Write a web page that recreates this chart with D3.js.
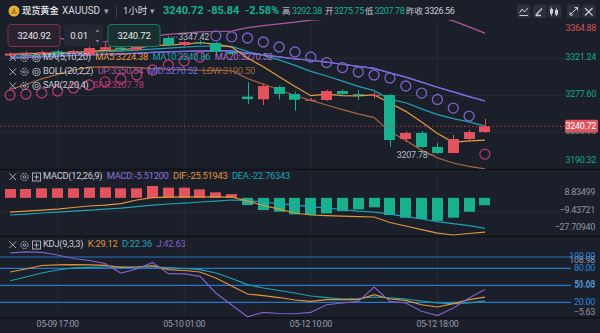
<!DOCTYPE html>
<html><head><meta charset="utf-8">
<script src="https://cdn.jsdelivr.net/npm/d3@7"></script>
<style>
html,body{margin:0;padding:0;background:#1b1f2a;overflow:hidden;}
svg{display:block;font-family:Roboto,"Noto Sans CJK SC",sans-serif;}
</style></head><body>
<svg id="c" width="600" height="333"></svg>
<script>
// ---------------- data ----------------
const categories = ["05-09 14:00","05-09 15:00","05-09 16:00","05-09 17:00","05-09 18:00","05-09 19:00","05-09 20:00","05-09 21:00","05-09 22:00","05-09 23:00","05-10 00:00","05-10 01:00","05-10 02:00","05-10 03:00","05-10 04:00","05-12 06:00","05-12 07:00","05-12 08:00","05-12 09:00","05-12 10:00","05-12 11:00","05-12 12:00","05-12 13:00","05-12 14:00","05-12 15:00","05-12 16:00","05-12 17:00","05-12 18:00","05-12 19:00","05-12 20:00","05-12 21:00"];
const xTickLabels = ["05-09 17:00","05-10 01:00","05-12 10:00","05-12 18:00"];
const openP  = [3324.0,3325.0,3325.5,3329.0,3327.0,3325.0,3331.0,3333.5,3331.0,3336.5,3345.0,3336.5,3340.0,3339.0,3328.5,3275.75,3272.5,3287.0,3278.8,3271.8,3271.7,3282.3,3278.6,3277.4,3277.6,3225.7,3232.8,3216.3,3209.2,3225.7,3233.9];
const highP  = [3328.0,3329.0,3330.0,3330.5,3331.0,3339.0,3339.0,3336.0,3338.0,3345.5,3347.42,3341.5,3342.0,3340.0,3329.5,3292.38,3290.5,3288.5,3281.5,3274.0,3284.0,3284.0,3283.5,3281.0,3279.0,3234.5,3235.0,3221.0,3230.5,3236.3,3249.3];
const lowP   = [3322.0,3323.5,3324.0,3325.5,3326.0,3324.0,3330.0,3328.0,3330.0,3335.0,3335.5,3335.0,3337.0,3327.0,3325.0,3267.0,3265.8,3272.5,3259.0,3270.5,3270.5,3276.5,3271.7,3273.5,3216.3,3222.2,3215.0,3207.78,3208.5,3222.0,3233.0];
const closeP = [3326.5,3327.5,3328.0,3327.0,3329.5,3333.0,3334.0,3331.5,3336.5,3344.0,3336.5,3340.0,3339.0,3328.5,3326.56,3272.8,3288.2,3278.8,3272.0,3272.0,3282.3,3278.8,3277.8,3277.8,3224.5,3232.8,3216.3,3209.2,3225.7,3233.9,3240.72];
const ma5  = [3325.5,3326.3,3326.8,3327.2,3327.7,3329.0,3330.3,3331.0,3332.9,3335.8,3336.5,3337.7,3339.2,3337.6,3334.1,3321.4,3311.0,3299.0,3287.7,3276.8,3278.7,3276.8,3276.6,3277.7,3268.2,3258.3,3245.8,3232.1,3221.7,3223.6,3224.38];
const ma10 = [3323.0,3324.0,3325.0,3325.8,3326.6,3327.6,3328.6,3329.4,3330.5,3331.8,3332.8,3334.0,3335.1,3335.3,3335.0,3328.9,3324.4,3319.1,3312.6,3305.4,3300.0,3293.9,3287.8,3282.7,3272.5,3268.5,3261.3,3254.4,3249.7,3245.9,3240.86];
const ma20 = [3321.0,3322.0,3322.8,3323.5,3324.2,3325.0,3325.6,3326.2,3327.0,3327.8,3328.4,3329.0,3329.4,3329.6,3329.6,3327.0,3325.0,3322.5,3320.3,3318.6,3316.4,3313.9,3311.4,3309.0,3303.7,3298.7,3292.8,3286.7,3281.2,3275.7,3270.52];
const bollMid = [3321.0,3322.0,3322.8,3323.5,3324.2,3325.0,3325.6,3326.2,3327.0,3327.8,3328.4,3329.0,3329.4,3329.6,3329.6,3327.0,3325.0,3322.5,3320.3,3318.6,3316.4,3313.9,3311.4,3309.0,3303.7,3298.7,3292.8,3286.7,3281.2,3275.7,3270.52];
const bollUp  = [3358.0,3354.0,3349.0,3345.0,3341.5,3339.5,3340.5,3342.0,3344.0,3347.0,3349.0,3350.5,3352.0,3352.5,3353.0,3357.0,3359.5,3361.5,3363.5,3366.0,3367.0,3367.5,3367.5,3367.0,3373.0,3373.5,3373.0,3370.0,3365.0,3358.0,3350.54];
const bollLow = [3284.0,3290.0,3296.6,3302.0,3307.0,3310.5,3310.7,3310.4,3310.0,3308.6,3307.8,3307.5,3306.8,3306.7,3306.2,3297.0,3290.5,3283.5,3277.0,3271.2,3265.8,3260.3,3255.3,3251.0,3234.4,3223.9,3212.6,3203.4,3197.4,3193.4,3190.50];
const sar = [3277.6,3278.8,3280.0,3282.3,3285.9,3289.4,3293.0,3296.5,3301.2,3307.1,3313.0,3317.7,3322.4,3347.42,3346.2,3344.8,3340.1,3334.2,3328.3,3322.4,3315.9,3310.0,3304.7,3301.2,3297.6,3288.2,3279.9,3272.3,3262.2,3252.8,3207.78];
const priceTicks = [3364.88,3321.24,3277.60,3233.96,3190.32];
const macdHist = [6.6,6.6,7.1,7.1,7.1,7.6,7.8,7.1,7.1,8.83499,7.6,7.6,6.3,4.1,2.8,-5.4,-9.1,-10.4,-12.3,-12.8,-11.6,-9.9,-8.6,-7.1,-12.8,-14.8,-15.8,-17.1,-14.8,-10.4,-5.512];
const dif = [-10.6,-9.9,-9.1,-8.4,-7.2,-6.1,-5.4,-4.3,-1.6,0.1,0.6,0.7,0.7,0.7,0.6,-2.4,-5.7,-8.4,-11.3,-12.8,-13.2,-13.6,-14.0,-14.3,-18.4,-21.0,-23.7,-26.3,-27.7094,-26.6,-25.51943];
const dea = [-12.8,-12.1,-11.3,-10.6,-9.9,-9.1,-8.4,-7.6,-6.5,-5.4,-4.6,-3.9,-3.1,-2.4,-1.6,-2.0,-3.1,-4.3,-5.4,-6.5,-7.6,-8.7,-9.9,-10.6,-12.1,-14.0,-15.8,-17.7,-19.2,-20.7,-22.76343];
const macdTicks = [8.83499,-9.43721,-27.70940];
const kdjK = [73.5,78.8,85.0,85.9,86.4,85.9,85.3,81.8,82.3,84.6,77.6,76.1,73.5,62.9,48.8,34.6,31.6,28.4,24.0,21.7,24.6,24.6,24.6,33.4,25.8,23.5,15.7,11.7,17.5,24.6,29.12];
const kdjD = [58.1,64.7,71.7,77.0,80.6,81.8,82.3,82.3,82.3,82.3,81.4,79.7,77.6,71.7,62.0,51.1,45.2,40.8,36.4,31.1,28.4,25.8,26.7,29.3,27.9,25.8,22.3,18.7,17.8,18.7,22.36];
const kdjJ = [107.1,108.98,108.3,103.5,97.3,93.8,88.5,71.7,78.8,90.3,70.5,70.0,65.9,36.4,15.2,-5.63,2.3,0.2,-0.2,2.3,15.7,18.7,21.7,47.0,21.7,18.7,4.1,-3.5,9.9,27.6,42.63];
const kdjLevels = [100,80,50,20];
const kdjTicks = [108.98,51.68,-5.63];

// ---------------- layout ----------------
const W=600,H=333,PR=566;
const RED="#e2535d", GREEN="#19b08f";
const FS=9, LS=-0.3;
const C = {bg:"#1b1f2a", grid:"#242a36", sep:"#0e1117", ma5:"#e69d3c", ma10:"#1ea2b6", ma20:"#b86bd0",
  mid:"#6a6fe6", up:"#b0589e", low:"#a5683c", sarUp:"#b33a70", sarDn:"#7d62c8", text:"#c9cdd5", axis:"#8e95a3",
  dif:"#e0953a", dea:"#1ea2b6", macd:"#8b6fd8", kK:"#e0953a", kD:"#1ea2b6", kJ:"#7f60c9", level:"#2776c6"};
const svg=d3.select('#c');
svg.append('rect').attr('width',W).attr('height',H).attr('fill',C.bg);

const x=d3.scaleBand().domain(categories).range([-1,496]).paddingInner(0.3).paddingOuter(0.35);
const cx=i=>x(categories[i])+x.bandwidth()/2;
const idx=d3.range(categories.length);
const yP=d3.scaleLinear().domain([3190.32,3364.88]).range([169,21]);
const yM=d3.scaleLinear().domain([-27.7094,8.83499]).range([235,186]);
const yK=d3.scaleLinear().domain([-5.63,108.98]).range([316.8,251.9]);

const defs=svg.append('defs');
defs.append('clipPath').attr('id','cm').append('rect').attr('x',0).attr('y',20).attr('width',PR).attr('height',149);
defs.append('clipPath').attr('id','cmacd').append('rect').attr('x',0).attr('y',183).attr('width',PR).attr('height',53);
defs.append('clipPath').attr('id','ck').append('rect').attr('x',0).attr('y',250).attr('width',PR).attr('height',68);

// grid
const g=svg.append('g');
g.selectAll('line.v').data(xTickLabels).join('line')
  .attr('x1',d=>x(d)+x.bandwidth()/2).attr('x2',d=>x(d)+x.bandwidth()/2).attr('y1',20).attr('y2',318)
  .attr('stroke',C.grid).attr('stroke-width',1);
g.selectAll('line.h').data(priceTicks.slice(1,4)).join('line')
  .attr('x1',0).attr('x2',PR).attr('y1',d=>Math.round(yP(d))+0.5).attr('y2',d=>Math.round(yP(d))+0.5)
  .attr('stroke',C.grid).attr('stroke-width',1);
g.append('line').attr('x1',0).attr('x2',PR).attr('y1',Math.round(yM(-9.43721))+0.5).attr('y2',Math.round(yM(-9.43721))+0.5).attr('stroke',C.grid);

[169.5,236.5,318].forEach(yy=>svg.append('line').attr('x1',0).attr('x2',W).attr('y1',yy).attr('y2',yy).attr('stroke',C.sep).attr('stroke-width',1.5));

// ---------- main pane ----------
const main=svg.append('g').attr('clip-path','url(#cm)');
const lineP=d3.line().x((d,i)=>cx(i)).y(d=>yP(d));
[[bollUp,C.up],[bollLow,C.low],[ma20,C.ma20],[bollMid,C.mid],[ma10,C.ma10],[ma5,C.ma5]].forEach(([arr,col])=>{
  main.append('path').datum(arr).attr('d',lineP).attr('fill','none').attr('stroke',col).attr('stroke-width',1.2);
});
const cg=main.append('g');
idx.forEach(i=>{
  const up=closeP[i]>=openP[i], col=up?RED:GREEN;
  cg.append('line').attr('x1',Math.round(cx(i))+0.5).attr('x2',Math.round(cx(i))+0.5)
    .attr('y1',yP(highP[i])).attr('y2',yP(lowP[i])).attr('stroke',col).attr('stroke-width',1);
  const y0=yP(Math.max(openP[i],closeP[i])), y1=yP(Math.min(openP[i],closeP[i]));
  cg.append('rect').attr('x',Math.round(cx(i)-x.bandwidth()/2)).attr('y',y0).attr('width',Math.round(x.bandwidth()))
    .attr('height',Math.max(1,y1-y0)).attr('fill',col);
});
main.selectAll('circle.sar').data(sar).join('circle')
  .attr('cx',(d,i)=>cx(i)).attr('cy',d=>yP(d)).attr('r',5)
  .attr('fill','none').attr('stroke',(d,i)=>d<closeP[i]?C.sarUp:C.sarDn).attr('stroke-width',1.3);

const last=closeP[closeP.length-1];
svg.append('line').attr('x1',0).attr('x2',PR).attr('y1',yP(last)).attr('y2',yP(last))
  .attr('stroke','#c4424f').attr('stroke-width',1).attr('stroke-dasharray','1.5,2.5');

function num(sel){ return sel.attr('font-size',FS).attr('letter-spacing',LS); }

const hiI=d3.maxIndex(highP), loI=d3.minIndex(lowP);
svg.append('line').attr('x1',cx(hiI)+3).attr('x2',cx(hiI)+9).attr('y1',yP(highP[hiI])+1.5).attr('y2',yP(highP[hiI])+1.5)
  .attr('stroke','#9aa0ab').attr('stroke-dasharray','1,1.5');
num(svg.append('text')).attr('x',cx(hiI)+10).attr('y',yP(highP[hiI])+2).attr('dominant-baseline','middle')
  .attr('fill','#b3b8c2').text(d3.format('.2f')(highP[hiI]));
svg.append('line').attr('x1',cx(loI)-9).attr('x2',cx(loI)-3).attr('y1',yP(lowP[loI])+0.5).attr('y2',yP(lowP[loI])+0.5)
  .attr('stroke','#9aa0ab').attr('stroke-dasharray','1,1.5');
num(svg.append('text')).attr('x',cx(loI)-10).attr('y',yP(lowP[loI])+1).attr('text-anchor','end').attr('dominant-baseline','middle')
  .attr('fill','#b3b8c2').text(d3.format('.2f')(lowP[loI]));

num(svg.selectAll('text.pt').data(priceTicks).join('text'))
  .attr('x',596).attr('y',d=>Math.max(29,Math.min(161,yP(d)))).attr('text-anchor','end').attr('dominant-baseline','middle')
  .attr('fill',d=>d>closeP[14]?"#d9505a":"#17a887").text(d=>d3.format('.2f')(d));
svg.append('rect').attr('x',565).attr('y',yP(last)-6.5).attr('width',33).attr('height',13).attr('rx',1.5).attr('fill','#e0525c');
num(svg.append('text')).attr('x',596).attr('y',yP(last)+0.5).attr('text-anchor','end').attr('dominant-baseline','middle')
  .attr('fill','#fff').text(d3.format('.2f')(last));

// ---------- MACD pane ----------
const mg=svg.append('g').attr('clip-path','url(#cmacd)');
mg.selectAll('rect').data(macdHist).join('rect')
  .attr('x',(d,i)=>Math.round(cx(i)-x.bandwidth()/2)).attr('width',Math.round(x.bandwidth()))
  .attr('y',d=>Math.min(yM(d),yM(0))).attr('height',d=>Math.abs(yM(d)-yM(0)))
  .attr('fill',d=>d>=0?RED:GREEN);
const lineM=d3.line().x((d,i)=>cx(i)).y(d=>yM(d));
mg.append('path').datum(dea).attr('d',lineM).attr('fill','none').attr('stroke',C.dea).attr('stroke-width',1.2);
mg.append('path').datum(dif).attr('d',lineM).attr('fill','none').attr('stroke',C.dif).attr('stroke-width',1.2);
num(svg.selectAll('text.mt').data(macdTicks).join('text'))
  .attr('x',595).attr('y',d=>Math.max(193,Math.min(228,yM(d)))).attr('text-anchor','end').attr('dominant-baseline','middle')
  .attr('fill',C.axis).text(d=>d3.format('.5f')(d));

// ---------- KDJ pane ----------
const kg=svg.append('g');
kg.selectAll('line').data(kdjLevels).join('line')
  .attr('x1',0).attr('x2',571).attr('y1',d=>yK(d)).attr('y2',d=>yK(d)).attr('stroke',C.level).attr('stroke-width',1.2);
const kc=svg.append('g').attr('clip-path','url(#ck)');
const lineK=d3.line().x((d,i)=>cx(i)).y(d=>yK(d));
[[kdjD,C.kD],[kdjK,C.kK],[kdjJ,C.kJ]].forEach(([arr,col])=>kc.append('path').datum(arr).attr('d',lineK).attr('fill','none').attr('stroke',col).attr('stroke-width',1.2));
num(svg.selectAll('text.kt').data(kdjTicks).join('text'))
  .attr('x',595).attr('y',d=>Math.max(261,Math.min(313,yK(d)))).attr('text-anchor','end').attr('dominant-baseline','middle')
  .attr('fill',C.axis).text(d=>d3.format('.2f')(d));
num(svg.selectAll('text.kl').data(kdjLevels).join('text'))
  .attr('x',595).attr('y',d=>yK(d)).attr('text-anchor','end').attr('dominant-baseline','middle')
  .attr('fill','#2b86de').text(d=>d3.format('.2f')(d));

svg.selectAll('text.xt').data(xTickLabels).join('text')
  .attr('x',d=>x(d)+x.bandwidth()/2).attr('y',325).attr('text-anchor','middle').attr('dominant-baseline','middle')
  .attr('font-size',8.8).attr('letter-spacing',-0.4).attr('fill','#969cab').text(d=>d);

// ---------- legends ----------
function icons(y, third){
  const gi=svg.append('g').attr('stroke','#a5abb6').attr('fill','none').attr('stroke-width',1);
  gi.append('path').attr('d',`M9.5,${y-3.5}L16,${y+3}M16,${y-3.5}L9.5,${y+3}`);
  gi.append('circle').attr('cx',24.5).attr('cy',y).attr('r',3.6).attr('stroke-dasharray','2,0.8');
  gi.append('circle').attr('cx',24.5).attr('cy',y).attr('r',1.3);
  if(third==='eye'){
    gi.append('circle').attr('cx',36.5).attr('cy',y).attr('r',3.8);
    gi.append('circle').attr('cx',36.5).attr('cy',y).attr('r',1.7);
  } else {
    gi.append('rect').attr('x',32.5).attr('y',y-4).attr('width',8).attr('height',8);
    gi.append('path').attr('d',`M36.5,${y-2.5}V${y+2.5}M34,${y}H39`);
  }
}
function legend(y, parts){
  let xx=43;
  parts.forEach(([s,col])=>{
    const t=svg.append('text').attr('x',xx).attr('y',y).attr('dominant-baseline','middle')
      .attr('font-size',9.3).attr('letter-spacing',-0.25).attr('fill',col).text(s);
    xx+=t.node().getComputedTextLength()+4.5;
  });
}
icons(58,'eye'); legend(58,[["MA(5,10,20)",C.text],["MA5:"+ma5[30].toFixed(2),C.ma5],["MA10:"+ma10[30].toFixed(2),C.ma10],["MA20:"+ma20[30].toFixed(2),C.ma20]]);
icons(72,'eye'); legend(72,[["BOLL(20,2,2)",C.text],["UP:"+bollUp[30].toFixed(2),C.up],["MID:"+bollMid[30].toFixed(2),C.mid],["LOW:"+bollLow[30].toFixed(2),C.low]]);
icons(86,'eye'); legend(86,[["SAR(2,20,4)",C.text],["SAR:"+sar[30].toFixed(2),C.sarUp]]);
icons(177,'box'); legend(177,[["MACD(12,26,9)",C.text],["MACD:"+macdHist[30].toFixed(5),C.macd],["DIF:"+dif[30].toFixed(5),C.dif],["DEA:"+dea[30].toFixed(5),C.dea]]);
icons(245,'box'); legend(245,[["KDJ(9,3,3)",C.text],["K:"+kdjK[30].toFixed(2),C.kK],["D:"+kdjD[30].toFixed(2),C.kD],["J:"+kdjJ[30].toFixed(2),C.kJ]]);

// ---------- trade boxes ----------
const tb=svg.append('g').attr('font-size',9.5).attr('fill','#e8eaee').attr('letter-spacing',-0.2);
tb.append('rect').attr('x',8).attr('y',24.5).attr('width',52).attr('height',22).attr('rx',3).attr('fill','#2a2230').attr('stroke','#7c3545');
tb.append('text').attr('x',34).attr('y',36).attr('text-anchor','middle').attr('dominant-baseline','middle').text("3240.92");
tb.append('rect').attr('x',64).attr('y',24.5).attr('width',39).attr('height',22).attr('rx',3).attr('fill','#232833');
tb.append('text').attr('x',79).attr('y',36).attr('text-anchor','middle').attr('dominant-baseline','middle').text("0.01");
tb.append('path').attr('d','M95.5,32L97.5,29.5L99.5,32Z M95.5,40L97.5,42.5L99.5,40Z').attr('fill','#7d8490');
tb.append('rect').attr('x',108).attr('y',24.5).attr('width',52).attr('height',22).attr('rx',3).attr('fill','#1a302f').attr('stroke','#1d7a64');
tb.append('text').attr('x',134).attr('y',36).attr('text-anchor','middle').attr('dominant-baseline','middle').text("3240.72");

// ---------- header ----------
const hd=svg.append('g');
hd.append('circle').attr('cx',14).attr('cy',11).attr('r',5.5).attr('fill','#e8b33b');
hd.append('path').attr('d','M11,13h6M12,11h4M13,9h2').attr('stroke','#8a5a10').attr('stroke-width',1);
// [text, x, colour, weight, size, letter-spacing]
const H1=[["现货黄金",22,"#eceef2",500,9.2,0],["XAUUSD",62,"#d6d9df",400,10,0],["▾",104,"#9aa0ab",400,9,0],["1小时",123,"#d6d9df",400,9.5,0],["▾",150,"#9aa0ab",400,9,0],
  ["3240.72",163,GREEN,700,11,-0.1],["-85.84",207,GREEN,700,11,-0.1],["-2.58%",245,GREEN,700,11,-0.1],
  ["高",282,"#c9cdd5",400,8.5,0],["3292.38",292,GREEN,400,9,-0.4],["开",325,"#c9cdd5",400,8.5,0],["3275.75",334,GREEN,400,9,-0.4],
  ["低",365,"#c9cdd5",400,8.5,0],["3207.78",374.5,GREEN,400,9,-0.4],["昨收",406,"#c9cdd5",400,8.5,0],["3326.56",424.5,"#c9cdd5",400,9,-0.4]];
H1.forEach(([s,xx,col,fw,fs,ls])=>hd.append('text').attr('x',xx).attr('y',11.5).attr('dominant-baseline','middle').attr('fill',col)
  .attr('font-weight',fw).attr('font-size',fs).attr('letter-spacing',ls).text(s));
hd.append('line').attr('x1',116.5).attr('x2',116.5).attr('y1',5).attr('y2',18).attr('stroke','#3a404d');
const ic=svg.append('g');
[517,533,548,567,582].forEach(xx=>{
  ic.append('rect').attr('x',xx).attr('y',4.5).attr('width',13.5).attr('height',13.5).attr('rx',2).attr('fill','#2a303c');
});
const st='#c9cdd5';
ic.append('path').attr('d','M519.5,13L522,9L524.5,12L528,8M519.5,15.5H528').attr('stroke',st).attr('fill','none');
ic.append('path').attr('d','M536,15L542,8.5M535.5,15.5H541').attr('stroke',st).attr('fill','none').attr('stroke-width',1.3);
ic.append('path').attr('d','M551.5,7.5V15.5M556.5,8.5V16').attr('stroke',st).attr('fill','none');
ic.append('rect').attr('x',550).attr('y',9).attr('width',3).attr('height',4.5).attr('fill',st);
ic.append('rect').attr('x',555).attr('y',10).attr('width',3).attr('height',4.5).attr('fill',st);
ic.append('path').attr('d','M570,15L577.5,7.5M574.5,7.5H577.5V10.5M570,12V15H573').attr('stroke',st).attr('fill','none');
ic.append('path').attr('d','M585,8L592.5,15.5M592.5,8L585,15.5').attr('stroke',st).attr('fill','none').attr('stroke-width',1.2);
</script></body></html>
